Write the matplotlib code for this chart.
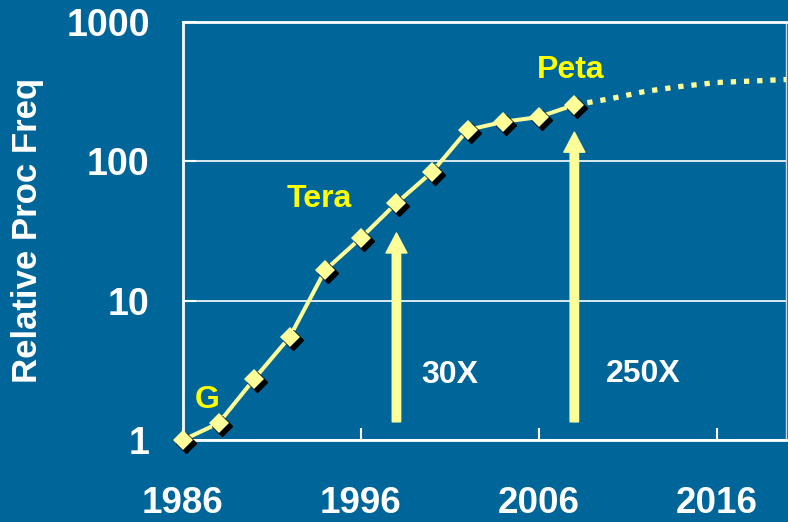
import matplotlib
matplotlib.use("Agg")
import matplotlib.pyplot as plt
from matplotlib.transforms import offset_copy

plt.rcParams["font.family"] = ["Liberation Sans", "DejaVu Sans"]
plt.rcParams["font.weight"] = "bold"

# Measured relative processor frequency
years = [1986, 1988, 1990, 1992, 1994, 1996, 1998, 2000, 2002, 2004, 2006, 2008]
freq = [1.0, 1.32, 2.74, 5.49, 16.6, 28.2, 50.2, 83.8, 168, 192, 208, 254]

# Dotted projection beyond Peta
proj_years = [2008, 2010, 2012, 2014, 2016, 2018, 2020]
proj_freq = [254, 281, 318, 345, 368, 377, 387]

# Vertical gain arrows
arrow_years = [1998, 2008]
arrow_base = [1.35, 1.35]
arrow_tip = [30.6, 162]
arrow_labels = ["30X", "250X"]
arrow_label_pos = [(1999.37, 2.56), (2009.76, 2.61)]

# Era labels
era_labels = ["G", "Tera", "Peta"]
era_pos = [(1986.67, 1.70), (1991.84, 47.0), (2005.89, 396)]

y_ticks = [1, 10, 100, 1000]
x_ticks = [1986, 1996, 2006, 2016]

BG = "#006699"
LINE = "#ffff99"
TEXT_Y = "#ffff00"

fig = plt.figure(figsize=(7.88, 5.22), dpi=100)
fig.patch.set_facecolor(BG)
ax = fig.add_axes([183 / 788, 82 / 522, 603 / 788, 418 / 522])
ax.set_facecolor(BG)

ax.set_yscale("log")
ax.set_ylim(1, 1000)
ax.set_xlim(1986, 2019.9)

ax.set_yticks(y_ticks)
ax.set_yticklabels([str(t) for t in y_ticks])
ax.set_xticks(x_ticks)
ax.set_xticklabels([str(t) for t in x_ticks])
ax.minorticks_off()
ax.tick_params(axis="y", direction="in", length=9.5, width=1.5, color="white",
               labelcolor="white", labelsize=27, pad=24)
ax.tick_params(axis="x", direction="in", length=9, width=1.5, color="white",
               labelcolor="white", labelsize=26.5, pad=33)
for lbl in ax.get_xticklabels() + ax.get_yticklabels():
    lbl.set_fontweight("bold")

ax.yaxis.grid(True, color="white", linewidth=1.2, zorder=0)
ax.set_axisbelow(True)
for side in ["left", "bottom", "top"]:
    ax.spines[side].set_color("white")
    ax.spines[side].set_linewidth(2)
ax.spines["right"].set_color("#cfd8e0")
ax.spines["right"].set_linewidth(1)

# projection
ax.plot(proj_years, proj_freq, color=LINE, linewidth=3.8,
        linestyle=(0, (1, 1.5)), dash_capstyle="butt", zorder=3)

# main curve with shadowed diamonds
ax.plot(years, freq, color=LINE, linewidth=2.9, zorder=4, clip_on=False)
shadow = offset_copy(ax.transData, fig=fig, x=3, y=-3, units="dots")
ax.plot(years, freq, linestyle="none", marker="D", markersize=10.5,
        color="black", transform=shadow, zorder=5, clip_on=False)
ax.plot(years, freq, linestyle="none", marker="D", markersize=10.5,
        color=LINE, markeredgewidth=0, zorder=6, clip_on=False)

# arrows
for xa, yb, yt in zip(arrow_years, arrow_base, arrow_tip):
    ax.annotate("", xy=(xa, yt), xytext=(xa, yb),
                arrowprops=dict(arrowstyle="simple,head_length=1.0,head_width=1.05,tail_width=0.42",
                                color=LINE, shrinkA=0, shrinkB=0, mutation_scale=14.4),
                zorder=4)
for txt, (xt, yt) in zip(arrow_labels, arrow_label_pos):
    ax.text(xt, yt, txt, color="white", fontsize=23, fontweight="bold",
            ha="left", va="baseline", zorder=7)

for txt, (xt, yt) in zip(era_labels, era_pos):
    ax.text(xt, yt, txt, color=TEXT_Y, fontsize=23, fontweight="bold",
            ha="left", va="baseline", zorder=7)

fig.text(28 / 788, 1 - 230 / 522, "Relative Proc Freq", rotation=90,
         color="white", fontsize=25, fontweight="bold", ha="center", va="center")

fig.savefig("out.png", dpi=100, facecolor=fig.get_facecolor())
